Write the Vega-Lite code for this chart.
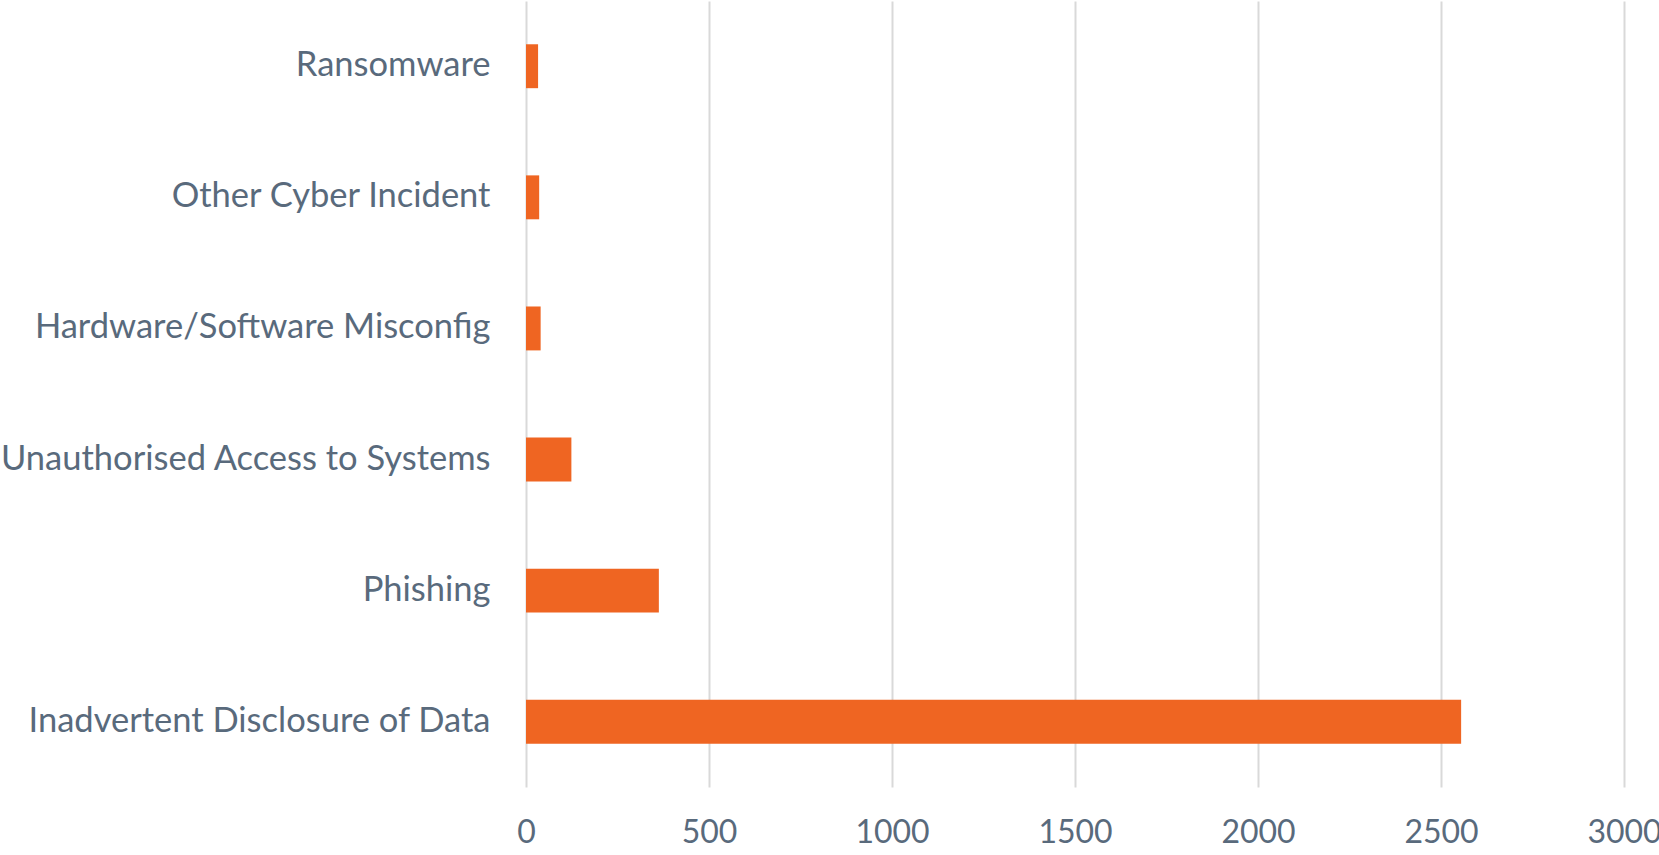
{
  "$schema": "https://vega.github.io/schema/vega-lite/v6.json",
  "width": 1098,
  "height": 786,
  "autosize": "none",
  "padding": {"left": 526, "top": 1, "right": 35, "bottom": 68},
  "background": "white",
  "config": {"view": {"stroke": null}},
  "data": {
    "values": [
      {"category": "Ransomware", "count": 33},
      {"category": "Other Cyber Incident", "count": 36},
      {"category": "Hardware/Software Misconfig", "count": 40},
      {"category": "Unauthorised Access to Systems", "count": 124},
      {"category": "Phishing", "count": 363},
      {"category": "Inadvertent Disclosure of Data", "count": 2555}
    ]
  },
  "mark": {"type": "bar", "color": "#EF6522"},
  "encoding": {
    "y": {
      "field": "category",
      "type": "nominal",
      "sort": null,
      "scale": {"paddingInner": 0.665, "paddingOuter": 0.33},
      "axis": {
        "title": null,
        "domain": false,
        "ticks": false,
        "labelFont": "Lato",
        "labelFontSize": 34.5,
        "labelColor": "#596A7C",
        "labelPadding": 36,
        "labelLimit": 600
      }
    },
    "x": {
      "field": "count",
      "type": "quantitative",
      "scale": {"domain": [0, 3000], "nice": false},
      "axis": {
        "title": null,
        "values": [0, 500, 1000, 1500, 2000, 2500, 3000],
        "format": "d",
        "domain": false,
        "ticks": false,
        "grid": true,
        "gridColor": "#D9D9D9",
        "gridWidth": 2,
        "labelFont": "Lato",
        "labelFontSize": 32,
        "labelColor": "#596A7C",
        "labelPadding": 30,
        "labelFlush": false,
        "labelOverlap": false
      }
    }
  }
}
